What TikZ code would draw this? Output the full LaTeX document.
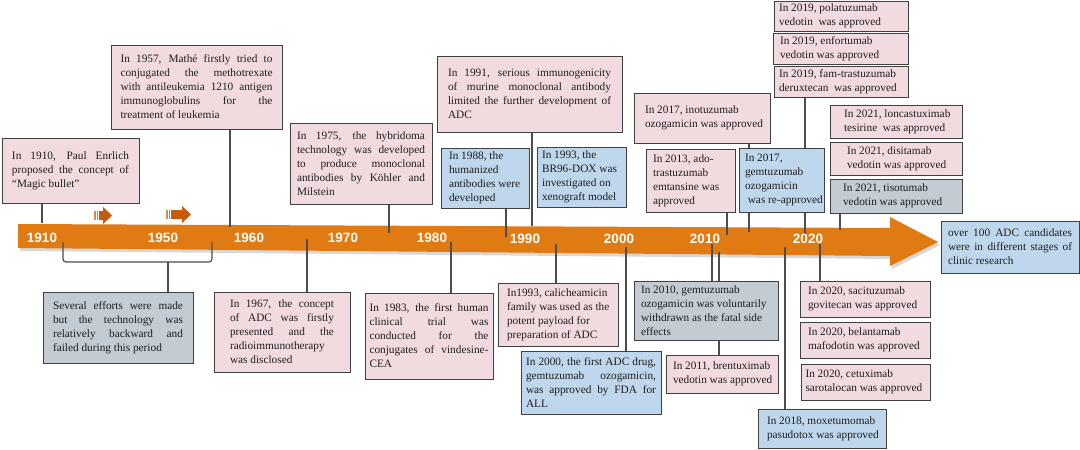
\documentclass[tikz,border=0pt]{standalone}
\usepackage{fontspec}
\setmainfont{Liberation Serif}
\newfontfamily\yrfont{Liberation Sans}
\pgfdeclarelayer{bg}
\pgfdeclarelayer{lines}
\pgfsetlayers{bg,lines,main}
\definecolor{pinkf}{RGB}{242,219,222}
\definecolor{bluef}{RGB}{190,215,237}
\definecolor{grayf}{RGB}{194,204,210}
\definecolor{arrowor}{RGB}{224,122,18}
\definecolor{smallar}{RGB}{197,90,17}
\definecolor{edgec}{RGB}{64,64,64}
\definecolor{connc}{RGB}{77,77,77}
\definecolor{textc}{RGB}{30,30,30}
\newcommand{\J}[1]{\leavevmode\hbox to\hsize{\spaceskip=\fontdimen2\font plus 1fil minus \fontdimen4\font\relax #1}}
\newcommand{\Ln}[1]{\leavevmode\hbox{\spaceskip=\fontdimen2\font plus \fontdimen3\font minus \fontdimen4\font\relax #1}}
\tikzset{
  evbox/.style={draw=edgec, line width=1pt, align=left, inner ysep=1pt, text=textc,
    font=\fontsize{11.3}{14}\selectfont},
  pinkbox/.style={fill=pinkf},
  bluebox/.style={fill=bluef},
  graybox/.style={fill=grayf},
  yr/.style={text=white, inner sep=0pt, font=\yrfont\bfseries\fontsize{13.5}{14}\selectfont},
  conn/.style={draw=connc, line width=1.2pt},
}
% name, style, left, top, right, bottom, pad, text
\newcommand{\ev}[8]{%
  \pgfmathsetmacro\evtw{#5-#3-2*#7}%
  \node[evbox,#2,minimum width={#5-#3},minimum height={#6-#4},
        text width=\evtw pt,inner xsep=#7pt] (#1) at ({(#3+#5)/2},{(#4+#6)/2}) {#8};}
\begin{document}
\begin{tikzpicture}[x=1pt,y=-1pt]
\useasboundingbox (0,0) rectangle (1080,450);
% ---------- main arrow ----------
\begin{pgfonlayer}{bg}
  \fill[black!35, opacity=0.45] (20,227) -- (892,231) -- (892,220) -- (940,245) -- (892,269) -- (892,259) -- (20,251) -- cycle;
  \fill[arrowor] (18,224) -- (890,228) -- (890,217) -- (938,242) -- (890,266) -- (890,256) -- (18,248) -- cycle;
  % small arrows
  \fill[smallar] (99,211) -- (103,211) -- (103,207) -- (112,215.5) -- (103,224) -- (103,220) -- (99,220) -- cycle;
  \fill[smallar!70] (94,211) rectangle (95.5,220);
  \fill[smallar!80] (96.5,211) rectangle (98.2,220);
  \fill[smallar] (171,210) -- (182,210) -- (182,206) -- (191,214.5) -- (182,223) -- (182,219) -- (171,219) -- cycle;
  \fill[smallar!70] (166,210) rectangle (167.6,219);
  \fill[smallar!80] (168.6,210) rectangle (170.3,219);
\end{pgfonlayer}
% ---------- year labels ----------
\node[yr] (y1910) at (42,238) {1910};
\node[yr] (y1950) at (163,238) {1950};
\node[yr] (y1960) at (249,238) {1960};
\node[yr] (y1970) at (343,238) {1970};
\node[yr] (y1980) at (432,238) {1980};
\node[yr] (y1990) at (525,238.5) {1990};
\node[yr] (y2000) at (619,238.5) {2000};
\node[yr] (y2010) at (705,238.5) {2010};
\node[yr] (y2020) at (808,239) {2020};
% ---------- boxes above ----------
\ev{b1910}{pinkbox}{2}{138}{139}{203}{10}{\J{In 1910, Paul Enrlich}\\\J{proposed the concept of}\\\Ln{“Magic bullet”}}
\ev{b1957}{pinkbox}{111}{45}{282}{129}{9.5}{\J{In 1957, Mathé firstly tried to}\\\J{conjugated the methotrexate}\\\J{with antileukemia 1210 antigen}\\\J{immunoglobulins for the}\\\Ln{treatment of leukemia}}
\ev{b1975}{pinkbox}{290}{123}{432}{204}{7}{\J{In 1975, the hybridoma}\\\J{technology was developed}\\\J{to produce monoclonal}\\\J{antibodies by Köhler and}\\\Ln{Milstein}}
\ev{b1991}{pinkbox}{437}{56}{622}{132}{11}{\J{In 1991, serious immunogenicity}\\\J{of murine monoclonal antibody}\\\J{limited the further development of}\\\Ln{ADC}}
\ev{b1988}{bluebox}{441}{148}{529}{208}{8}{\Ln{In 1988, the}\\\Ln{humanized}\\\Ln{antibodies were}\\\Ln{developed}}
\ev{bBR96}{bluebox}{537}{147}{626}{207}{5}{\Ln{In 1993, the}\\\Ln{BR96-DOX was}\\\Ln{investigated on}\\\Ln{xenograft model}}
\ev{bIno}{pinkbox}{634}{93}{770}{143}{11}{\Ln{In 2017, inotuzumab}\\\Ln{ozogamicin was approved}}
\ev{b2013}{pinkbox}{646}{149}{735}{212}{7}{\Ln{In 2013, ado-}\\\Ln{trastuzumab}\\\Ln{emtansine was}\\\Ln{approved}}
\ev{bGem}{bluebox}{739}{148}{824}{212}{6}{\Ln{In 2017,}\\\Ln{gemtuzumab}\\\Ln{ozogamicin}\\\Ln{\ was re-approved}}
\ev{bPol}{pinkbox}{774}{1}{908}{31}{5}{\Ln{In 2019, polatuzumab}\\\Ln{vedotin\ \ was approved}}
\ev{bEnf}{pinkbox}{773}{33}{908}{64}{7}{\Ln{In 2019, enfortumab}\\\Ln{vedotin was approved}}
\ev{bFam}{pinkbox}{774}{66}{908}{97}{5}{\Ln{In 2019, fam-trastuzumab}\\\Ln{deruxtecan\ \ was approved}}
\ev{bLon}{pinkbox}{830}{105}{962}{138}{14}{\Ln{In 2021, loncastuximab}\\\Ln{tesirine\ \ was approved}}
\ev{bDis}{pinkbox}{830}{142}{962}{175}{17}{\Ln{In 2021, disitamab}\\\Ln{vedotin was approved}}
\ev{bTis}{graybox}{830}{179}{962}{213}{13}{\Ln{In 2021, tisotumab}\\\Ln{vedotin was approved}}
\ev{bOver}{bluebox}{941}{221}{1079}{273}{7}{\J{over 100 ADC candidates}\\\J{were in different stages of}\\\Ln{clinic research}}
% ---------- boxes below ----------
\ev{bSev}{graybox}{43}{292}{193}{363}{10}{\J{Several efforts were made}\\\J{but the technology was}\\\J{relatively backward and}\\\Ln{failed during this period}}
\ev{b1967}{pinkbox}{214}{292}{350}{372}{16}{\J{In 1967, the concept}\\\J{of ADC was firstly}\\\J{presented and the}\\\Ln{radioimmunotherapy}\\\Ln{was disclosed}}
\ev{b1983}{pinkbox}{365}{293}{493}{379}{4.5}{\J{In 1983, the first human}\\\J{clinical trial was}\\\J{conducted for the}\\\J{conjugates of vindesine-}\\\Ln{CEA}}
\ev{bCal}{pinkbox}{498}{283}{618}{346}{9}{\Ln{In1993, calicheamicin}\\\Ln{family was used as the}\\\Ln{potent payload for}\\\Ln{preparation of ADC}}
\ev{b2000}{bluebox}{521}{351}{661}{414}{5}{\J{In 2000, the first ADC drug,}\\\J{gemtuzumab ozogamicin,}\\\J{was approved by FDA for}\\\Ln{ALL}}
\ev{b2010}{graybox}{634}{281}{778}{340}{7}{\Ln{In 2010, gemtuzumab}\\\Ln{ozogamicin was voluntarily}\\\Ln{withdrawn as the fatal side}\\\Ln{effects}}
\ev{b2011}{pinkbox}{666}{355}{778}{393}{7}{\Ln{In 2011, brentuximab}\\\Ln{vedotin was approved}}
\ev{b2018}{bluebox}{758}{409}{886}{448}{9}{\Ln{In 2018, moxetumomab}\\\Ln{pasudotox was approved}}
\ev{bSac}{pinkbox}{800}{281}{930}{317}{8}{\Ln{In 2020, sacituzumab}\\\Ln{govitecan was approved}}
\ev{bBel}{pinkbox}{800}{322}{930}{358}{8}{\Ln{In 2020, belantamab}\\\Ln{mafodotin was approved}}
\ev{bCet}{pinkbox}{801}{364}{930}{400}{4.5}{\Ln{In 2020, cetuximab}\\\Ln{sarotalocan was approved}}
% ---------- connector end points on the arrow ----------
\coordinate (t1910) at (42,223);
\coordinate (t1957) at (230,227);
\coordinate (t1975) at (389,233);
\coordinate (t1991) at (532,226);
\coordinate (t1988) at (506,237);
\coordinate (tIno) at (749,232);
\coordinate (t2013) at (727,235);
\coordinate (tFam) at (805,236);
\coordinate (tTis) at (840,230);
\coordinate (brL) at (63,242);
\coordinate (brR) at (212,242);
\coordinate (brM) at (168,262);
\coordinate (t1967) at (307,239);
\coordinate (t1983) at (451,242);
\coordinate (tCal) at (556,244);
\coordinate (t2000) at (626,247);
\coordinate (t2010) at (712,244);
\coordinate (t2011) at (719,252);
\coordinate (t2018) at (785,247);
\coordinate (tSac) at (820,244);
% ---------- connectors ----------
\begin{pgfonlayer}{lines}
  \draw[conn] (t1910 |- b1910.south) -- (t1910);
  \draw[conn] (t1957 |- b1957.south) -- (t1957);
  \draw[conn] (t1975 |- b1975.south) -- (t1975);
  \draw[conn] (t1991 |- b1991.south) -- (t1991);
  \draw[conn] (t1988 |- b1988.south) -- (t1988);
  \draw[conn] (tIno |- bIno.south) -- (tIno);
  \draw[conn] (t2013 |- b2013.south) -- (t2013);
  \draw[conn] (tFam |- bFam.south) -- (tFam);
  \draw[conn] (tTis |- bTis.south) -- (tTis);
  \draw[conn, rounded corners=3pt] (brL) -- (brL |- brM) -- (brR |- brM) -- (brR);
  \draw[conn] (brM) -- (brM |- bSev.north);
  \draw[conn] (t1967) -- (t1967 |- b1967.north);
  \draw[conn] (t1983) -- (t1983 |- b1983.north);
  \draw[conn] (tCal) -- (tCal |- bCal.north);
  \draw[conn] (t2000) -- (t2000 |- b2000.north);
  \draw[conn] (t2010) -- (t2010 |- b2010.north);
  \draw[conn] (t2011) -- (t2011 |- b2011.north);
  \draw[conn] (t2018) -- (t2018 |- b2018.north);
  \draw[conn] (tSac) -- (tSac |- bSac.north);
\end{pgfonlayer}
\end{tikzpicture}
\end{document}
